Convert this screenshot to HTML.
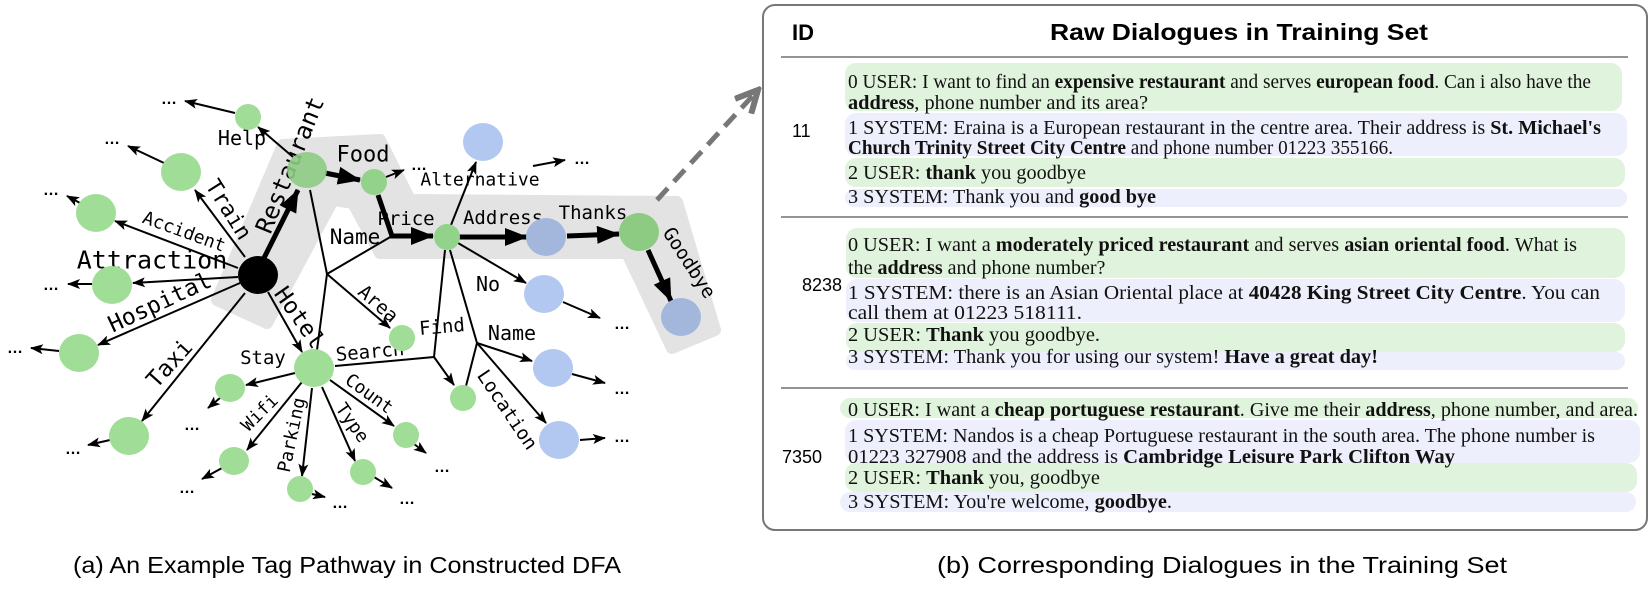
<!DOCTYPE html>
<html><head><meta charset="utf-8"><style>
html,body{margin:0;padding:0;background:#fff;}
svg{display:block;}
.m{font-family:"DejaVu Sans Mono","Liberation Mono",monospace;fill:#000;}
.s{font-family:"Liberation Serif",serif;font-size:20px;fill:#111;}
.h{font-family:"Liberation Sans",sans-serif;}
.b{font-weight:bold;}
.dots{font-family:"Liberation Sans",sans-serif;font-size:16px;font-weight:bold;}
</style></head><body>
<svg width="1652" height="589" viewBox="0 0 1652 589" xmlns="http://www.w3.org/2000/svg">
<defs>
<marker id="a" markerUnits="userSpaceOnUse" markerWidth="14" markerHeight="10" refX="12" refY="5" orient="auto"><path d="M0,0 L13,5 L0,10 L3,5 z" fill="#000"/></marker>
<marker id="t" markerUnits="userSpaceOnUse" markerWidth="24" markerHeight="18" refX="22" refY="9" orient="auto"><path d="M0,0 L23,9 L0,18 z" fill="#000"/></marker>
<marker id="g" markerUnits="userSpaceOnUse" markerWidth="28" markerHeight="26" refX="24" refY="13" orient="auto"><path d="M2,2 L24,13 L2,24" fill="none" stroke="#777" stroke-width="6"/></marker>
</defs>

<polygon points="217,300 283,145 380,140 410,200 677,202 715,330 672,348 627,253 380,253 353,203 333,200 267,323" fill="#e3e3e3" stroke="#e3e3e3" stroke-width="12" stroke-linejoin="round"/>

<line x1="657" y1="200" x2="758" y2="90" stroke="#777" stroke-width="5" stroke-dasharray="16 9" marker-end="url(#g)"/>

<g stroke="#000" stroke-width="2" fill="none">
<line x1="245" y1="257" x2="195" y2="190" marker-end="url(#a)"/>
<line x1="238" y1="268" x2="115" y2="221" marker-end="url(#a)"/>
<line x1="238" y1="277" x2="133" y2="283" marker-end="url(#a)"/>
<line x1="240" y1="283" x2="98" y2="345" marker-end="url(#a)"/>
<line x1="245" y1="293" x2="142" y2="421" marker-end="url(#a)"/>
<line x1="268" y1="292" x2="302" y2="352" marker-end="url(#a)"/>
<line x1="293" y1="157" x2="258" y2="127" marker-end="url(#a)"/>
<line x1="235" y1="113" x2="185" y2="101" marker-end="url(#a)"/>
<line x1="164" y1="163" x2="128" y2="146" marker-end="url(#a)"/>
<line x1="80" y1="203" x2="67" y2="196" marker-end="url(#a)"/>
<line x1="92" y1="284" x2="68" y2="284" marker-end="url(#a)"/>
<line x1="59" y1="351" x2="31" y2="348" marker-end="url(#a)"/>
<line x1="110" y1="440" x2="88" y2="445" marker-end="url(#a)"/>
<line x1="220" y1="398" x2="208" y2="408" marker-end="url(#a)"/>
<line x1="222" y1="468" x2="202" y2="479" marker-end="url(#a)"/>
<line x1="295" y1="373" x2="246" y2="385" marker-end="url(#a)"/>
<line x1="302" y1="382" x2="247" y2="450" marker-end="url(#a)"/>
<line x1="312" y1="388" x2="302" y2="476" marker-end="url(#a)"/>
<line x1="322" y1="387" x2="355" y2="461" marker-end="url(#a)"/>
<line x1="330" y1="380" x2="394" y2="426" marker-end="url(#a)"/>
<line x1="414" y1="444" x2="426" y2="453" marker-end="url(#a)"/>
<line x1="374" y1="477" x2="392" y2="488" marker-end="url(#a)"/>
<line x1="312" y1="494" x2="325" y2="497" marker-end="url(#a)"/>
<line x1="310" y1="190" x2="327" y2="274"/>
<line x1="327" y1="274" x2="392" y2="236"/>
<line x1="327" y1="274" x2="390" y2="328" marker-end="url(#a)"/>
<line x1="327" y1="274" x2="317" y2="350"/>
<line x1="335" y1="366" x2="434" y2="357"/>
<line x1="434" y1="357" x2="445" y2="250"/>
<line x1="434" y1="357" x2="454" y2="385" marker-end="url(#a)"/>
<line x1="466" y1="386" x2="477" y2="343"/>
<line x1="450" y1="250" x2="477" y2="343"/>
<line x1="477" y1="343" x2="532" y2="361" marker-end="url(#a)"/>
<line x1="477" y1="343" x2="546" y2="423" marker-end="url(#a)"/>
<line x1="458" y1="243" x2="526" y2="283" marker-end="url(#a)"/>
<line x1="451" y1="225" x2="476" y2="162" marker-end="url(#a)"/>
<line x1="533" y1="166" x2="565" y2="160" marker-end="url(#a)"/>
<line x1="386" y1="177" x2="404" y2="170" marker-end="url(#a)"/>
<line x1="563" y1="302" x2="600" y2="318" marker-end="url(#a)"/>
<line x1="572" y1="374" x2="605" y2="383" marker-end="url(#a)"/>
<line x1="580" y1="440" x2="605" y2="438" marker-end="url(#a)"/>
</g>
<g stroke="#000" stroke-width="5" fill="none">
<line x1="262" y1="262" x2="298" y2="190" marker-end="url(#t)"/>
<line x1="325" y1="173" x2="360" y2="180" marker-end="url(#t)"/>
<polyline points="378,195 392,236 395,236"/>
<line x1="392" y1="236" x2="433" y2="236" marker-end="url(#t)"/>
<line x1="458" y1="237" x2="527" y2="237" marker-end="url(#t)"/>
<line x1="567" y1="236" x2="619" y2="234" marker-end="url(#t)"/>
<line x1="648" y1="250" x2="671" y2="301" marker-end="url(#t)"/>
</g>

<g class="m" text-anchor="middle" dominant-baseline="central">
<text x="290" y="165" font-size="24" transform="rotate(-68 290 165)">Restaurant</text>
<text x="228" y="210" font-size="22" transform="rotate(58 228 210)">Train</text>
<text x="184" y="232" font-size="18" transform="rotate(20 184 232)">Accident</text>
<text x="152" y="260" font-size="25">Attraction</text>
<text x="160" y="303" font-size="23" transform="rotate(-25 160 303)">Hospital</text>
<text x="170" y="364" font-size="23" transform="rotate(-48 170 364)">Taxi</text>
<text x="299" y="318" font-size="23" transform="rotate(55 299 318)">Hotel</text>
<text x="242" y="138" font-size="20">Help</text>
<text x="363" y="155" font-size="22">Food</text>
<text x="406" y="219" font-size="19">Price</text>
<text x="355" y="237" font-size="21">Name</text>
<text x="480" y="180" font-size="18">Alternative</text>
<text x="503" y="218" font-size="19">Address</text>
<text x="593" y="213" font-size="19">Thanks</text>
<text x="689" y="263" font-size="19" transform="rotate(57 689 263)">Goodbye</text>
<text x="488" y="284" font-size="20">No</text>
<text x="512" y="333" font-size="20">Name</text>
<text x="378" y="304" font-size="19" transform="rotate(41 378 304)">Area</text>
<text x="442" y="327" font-size="19" transform="rotate(-5 442 327)">Find</text>
<text x="370" y="352" font-size="19" transform="rotate(-5 370 352)">Search</text>
<text x="263" y="358" font-size="19">Stay</text>
<text x="369" y="394" font-size="18" transform="rotate(36 369 394)">Count</text>
<text x="352" y="423" font-size="18" transform="rotate(55 352 423)">Type</text>
<text x="292" y="435" font-size="18" transform="rotate(-78 292 435)">Parking</text>
<text x="260" y="413" font-size="18" transform="rotate(-45 260 413)">Wifi</text>
<text x="507" y="410" font-size="19" transform="rotate(56 507 410)">Location</text>
</g>

<g>
<ellipse cx="258" cy="275" rx="20" ry="19" fill="#000"/>
<ellipse cx="307" cy="170" rx="20" ry="18" fill="#8dcb83" fill-opacity="0.9"/>
<ellipse cx="248" cy="117" rx="13" ry="13" fill="#a0dd96"/>
<ellipse cx="181" cy="172" rx="20" ry="19" fill="#a0dd96"/>
<ellipse cx="96" cy="213" rx="20" ry="19" fill="#a0dd96"/>
<ellipse cx="112" cy="285" rx="20" ry="19" fill="#a0dd96"/>
<ellipse cx="79" cy="353" rx="20" ry="19" fill="#a0dd96"/>
<ellipse cx="129" cy="436" rx="20" ry="19" fill="#a0dd96"/>
<ellipse cx="314" cy="368" rx="20" ry="19" fill="#a0dd96"/>
<ellipse cx="230" cy="388" rx="15" ry="14" fill="#a0dd96"/>
<ellipse cx="234" cy="461" rx="15" ry="14" fill="#a0dd96"/>
<ellipse cx="300" cy="489" rx="13" ry="13" fill="#a0dd96"/>
<ellipse cx="363" cy="472" rx="13" ry="13" fill="#a0dd96"/>
<ellipse cx="406" cy="435" rx="13" ry="13" fill="#a0dd96"/>
<ellipse cx="402" cy="338" rx="13" ry="13" fill="#a0dd96"/>
<ellipse cx="463" cy="398" rx="13" ry="13" fill="#a0dd96"/>
<ellipse cx="374" cy="182" rx="13" ry="13" fill="#92d28a"/>
<ellipse cx="447" cy="237" rx="13" ry="13" fill="#92d28a"/>
<ellipse cx="639" cy="232" rx="20" ry="19" fill="#8dcb83"/>
<ellipse cx="483" cy="142" rx="20" ry="19" fill="#b3c8f0"/>
<ellipse cx="546" cy="237" rx="20" ry="19" fill="#a3b7dd"/>
<ellipse cx="681" cy="317" rx="20" ry="19" fill="#a3b7dd"/>
<ellipse cx="544" cy="294" rx="20" ry="19" fill="#b3c8f0"/>
<ellipse cx="553" cy="368" rx="20" ry="19" fill="#b3c8f0"/>
<ellipse cx="559" cy="440" rx="20" ry="19" fill="#b3c8f0"/>
</g>

<g class="dots" text-anchor="middle">
<text x="169" y="104">…</text><text x="112" y="144">…</text><text x="51" y="195">…</text>
<text x="51" y="290">…</text><text x="15" y="353">…</text><text x="73" y="454">…</text>
<text x="192" y="430">…</text><text x="187" y="493">…</text><text x="340" y="508">…</text>
<text x="407" y="504">…</text><text x="442" y="472">…</text><text x="419" y="170">…</text>
<text x="582" y="164">…</text><text x="622" y="329">…</text><text x="622" y="394">…</text>
<text x="622" y="442">…</text>
</g>

<text class="h" x="73" y="573" font-size="23" textLength="548" lengthAdjust="spacingAndGlyphs">(a) An Example Tag Pathway in Constructed DFA</text>
<text class="h" x="937" y="573" font-size="23" textLength="570" lengthAdjust="spacingAndGlyphs">(b) Corresponding Dialogues in the Training Set</text>

<rect x="763" y="5" width="884" height="525" rx="12" fill="#fff" stroke="#777" stroke-width="2"/>
<text class="h b" x="792" y="40" font-size="22">ID</text>
<text class="h b" x="1050" y="40" font-size="23" textLength="378" lengthAdjust="spacingAndGlyphs">Raw Dialogues in Training Set</text>
<g stroke="#555" stroke-width="1.2">
<line x1="781" y1="57" x2="1628" y2="57"/>
<line x1="781" y1="217" x2="1628" y2="217"/>
<line x1="781" y1="388" x2="1628" y2="388"/>
</g>
<g fill="#e0f3dc">
<rect x="845" y="63" width="777" height="48" rx="11"/>
<rect x="845" y="158" width="780" height="29" rx="11"/>
<rect x="846" y="228" width="779" height="50" rx="11"/>
<rect x="846" y="323" width="779" height="29" rx="11"/>
<rect x="840" y="398" width="798" height="20" rx="10"/>
<rect x="845" y="463" width="792" height="29" rx="11"/>
</g>
<g fill="#eeeffc">
<rect x="845" y="113" width="782" height="43" rx="11"/>
<rect x="845" y="189" width="782" height="18" rx="9"/>
<rect x="846" y="279" width="779" height="43" rx="11"/>
<rect x="846" y="352" width="779" height="18" rx="9"/>
<rect x="845" y="420" width="795" height="43" rx="11"/>
<rect x="840" y="492" width="796" height="20" rx="10"/>
</g>
<g class="h" font-size="18">
<text x="792" y="137">11</text>
<text x="802" y="291">8238</text>
<text x="782" y="463">7350</text>
</g>
<g class="s">
<text x="848" y="88" textLength="743" lengthAdjust="spacingAndGlyphs">0 USER: I want to find an <tspan class="b">expensive restaurant</tspan> and serves <tspan class="b">european food</tspan>. Can i also have the</text>
<text x="848" y="109" textLength="300" lengthAdjust="spacingAndGlyphs"><tspan class="b">address</tspan>, phone number and its area?</text>
<text x="848" y="134" textLength="753" lengthAdjust="spacingAndGlyphs">1 SYSTEM: Eraina is a European restaurant in the centre area. Their address is <tspan class="b">St. Michael's</tspan></text>
<text x="848" y="154" textLength="545" lengthAdjust="spacingAndGlyphs"><tspan class="b">Church Trinity Street City Centre</tspan> and phone number 01223 355166.</text>
<text x="848" y="179" textLength="238" lengthAdjust="spacingAndGlyphs">2 USER: <tspan class="b">thank</tspan> you goodbye</text>
<text x="848" y="203" textLength="308" lengthAdjust="spacingAndGlyphs">3 SYSTEM: Thank you and <tspan class="b">good bye</tspan></text>

<text x="848" y="251" textLength="729" lengthAdjust="spacingAndGlyphs">0 USER: I want a <tspan class="b">moderately priced restaurant</tspan> and serves <tspan class="b">asian oriental food</tspan>. What is</text>
<text x="848" y="274">the <tspan class="b">address</tspan> and phone number?</text>
<text x="848" y="299" textLength="752" lengthAdjust="spacingAndGlyphs">1 SYSTEM: there is an Asian Oriental place at <tspan class="b">40428 King Street City Centre</tspan>. You can</text>
<text x="848" y="319" textLength="234" lengthAdjust="spacingAndGlyphs">call them at 01223 518111.</text>
<text x="848" y="341" textLength="252" lengthAdjust="spacingAndGlyphs">2 USER: <tspan class="b">Thank</tspan> you goodbye.</text>
<text x="848" y="363" textLength="530" lengthAdjust="spacingAndGlyphs">3 SYSTEM: Thank you for using our system! <tspan class="b">Have a great day!</tspan></text>

<text x="848" y="416" textLength="790" lengthAdjust="spacingAndGlyphs">0 USER: I want a <tspan class="b">cheap portuguese restaurant</tspan>. Give me their <tspan class="b">address</tspan>, phone number, and area.</text>
<text x="848" y="442" textLength="747" lengthAdjust="spacingAndGlyphs">1 SYSTEM: Nandos is a cheap Portuguese restaurant in the south area. The phone number is</text>
<text x="848" y="463" textLength="607" lengthAdjust="spacingAndGlyphs">01223 327908 and the address is <tspan class="b">Cambridge Leisure Park Clifton Way</tspan></text>
<text x="848" y="484" textLength="252" lengthAdjust="spacingAndGlyphs">2 USER: <tspan class="b">Thank</tspan> you, goodbye</text>
<text x="848" y="508" textLength="324" lengthAdjust="spacingAndGlyphs">3 SYSTEM: You're welcome, <tspan class="b">goodbye</tspan>.</text>
</g>
</svg>
</body></html>
